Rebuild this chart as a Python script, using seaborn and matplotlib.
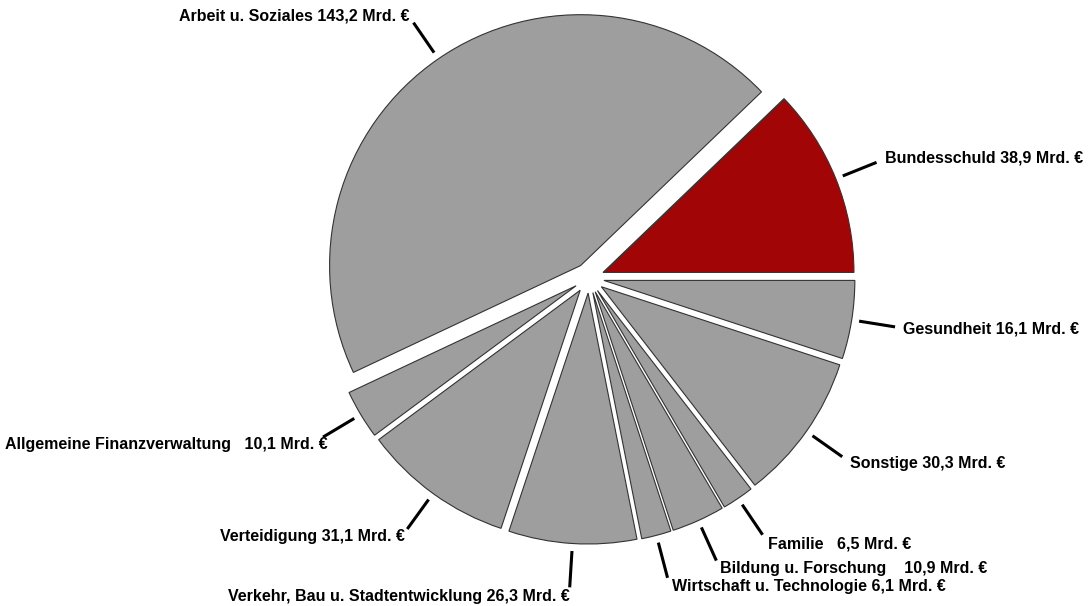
import numpy as np
import matplotlib
matplotlib.use("Agg")
import matplotlib.pyplot as plt
import seaborn as sns

# Bundeshaushalt - Ausgaben nach Bereichen (Mrd. Euro)
bereiche = ["Bundesschuld", "Arbeit u. Soziales", "Allgemeine Finanzverwaltung",
            "Verteidigung", "Verkehr, Bau u. Stadtentwicklung",
            "Wirtschaft u. Technologie", "Bildung u. Forschung", "Familie",
            "Sonstige", "Gesundheit"]
werte = [38.9, 143.2, 10.1, 31.1, 26.3, 6.1, 10.9, 6.5, 30.3, 16.1]
trenner = [" ", " ", "   ", " ", " ", " ", "    ", "   ", " ", " "]

sns.set_theme(style="white")
plt.rcParams["font.family"] = ["Liberation Sans", "DejaVu Sans"]

rot = "#a10505"
grau = "#9e9e9e"
farben = [rot] + [grau] * (len(werte) - 1)

# Textversatz (Pixel) vom Ende der Hinweislinie
versatz = [(8, -4), (-4, -7), (5, 7), (-2, 7), (0, 9),
           (4, 9), (4, 8), (5, 9), (8, 7), (8, 2)]

fig = plt.figure(figsize=(10.89, 6.06), dpi=100)
ax = fig.add_axes([0, 0, 1, 1])

wedges, _ = ax.pie(werte, colors=farben, explode=[0.06] * len(werte),
                   startangle=0, counterclock=True, radius=1,
                   wedgeprops=dict(edgecolor="#333333", linewidth=0.8))
ax.set_xlim(-2.347, 1.992)
ax.set_ylim(-1.307, 1.108)
ax.set_aspect("equal")
ax.axis("off")

for w, name, wert, sep, (dx, dy) in zip(wedges, bereiche, werte, trenner, versatz):
    theta = np.deg2rad((w.theta1 + w.theta2) / 2)
    c, s = np.cos(theta), np.sin(theta)
    ax.plot([1.09 * c, 1.235 * c], [1.09 * s, 1.235 * s], color="black",
            lw=2.2, solid_capstyle="butt")
    text = name + sep + f"{wert:.1f}".replace(".", ",") + " Mrd. €"
    ax.annotate(text, (1.235 * c, 1.235 * s), xytext=(dx * 0.72, -dy * 0.72),
                textcoords="offset points", ha="left" if c > 0 else "right",
                va="center", fontsize=11.5, fontweight="bold", color="black")

fig.savefig("out.png", dpi=100)
